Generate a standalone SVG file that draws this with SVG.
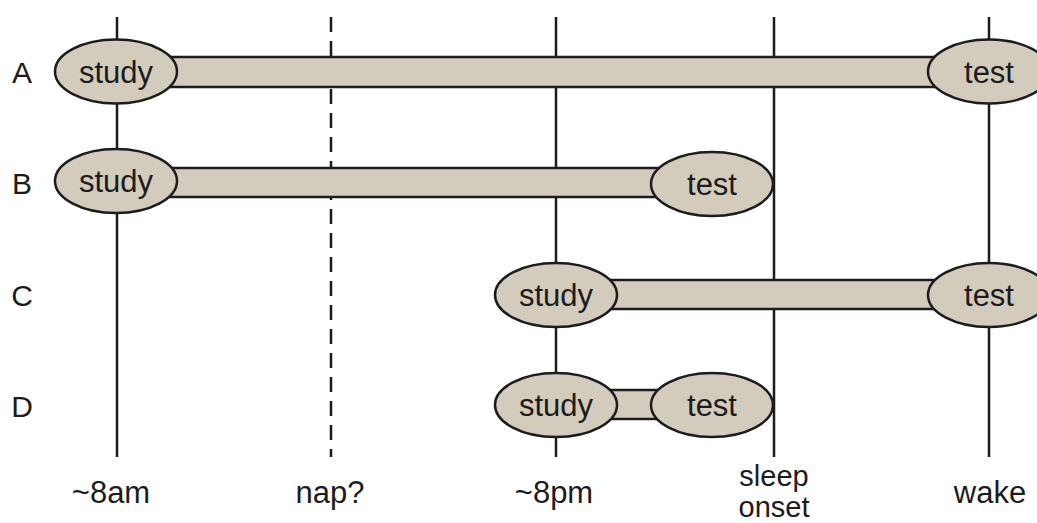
<svg xmlns="http://www.w3.org/2000/svg" width="1037" height="523" viewBox="0 0 1037 523">
  <style>
    .time { stroke: #1c1c1c; stroke-width: 2.5; fill: none; }
    .dash { stroke-dasharray: 15 9; }
    .bar { fill: #d3cbbc; stroke: #1c1c1c; stroke-width: 2.5; }
    .node { fill: #d3cbbc; stroke: #1c1c1c; stroke-width: 2.5; }
    .lbl { font-family: "Liberation Sans", Arial, sans-serif; font-size: 31px; fill: #1c1c1c; text-anchor: middle; }
    .two { font-size: 29px; }
    .row { font-family: "Liberation Sans", Arial, sans-serif; font-size: 30px; fill: #1c1c1c; text-anchor: middle; }
  </style>
  <rect width="1037" height="523" fill="#ffffff"/>

  <!-- time axis lines -->
  <g id="timeline">
    <line class="time" x1="117" y1="17" x2="117" y2="457"/>
    <line class="time dash" x1="331" y1="17" x2="331" y2="457"/>
    <line class="time" x1="556" y1="17" x2="556" y2="457"/>
    <line class="time" x1="774" y1="17" x2="774" y2="457"/>
    <line class="time" x1="989" y1="17" x2="989" y2="457"/>
  </g>

  <!-- retention intervals between study and test -->
  <g id="connectors">
    <rect class="bar" x="117" y="57" width="872" height="30"/>
    <rect class="bar" x="117" y="168" width="595" height="29"/>
    <rect class="bar" x="556" y="280" width="433" height="29"/>
    <rect class="bar" x="556" y="390" width="156" height="29"/>
  </g>

  <!-- row A -->
  <g id="A-study">
    <ellipse class="node" cx="116" cy="71.5" rx="61" ry="32"/>
    <text class="lbl" x="116" y="83">study</text>
  </g>
  <g id="A-test">
    <ellipse class="node" cx="989" cy="71.5" rx="61" ry="32"/>
    <text class="lbl" x="989" y="83">test</text>
  </g>

  <!-- row B -->
  <g id="B-study">
    <ellipse class="node" cx="116" cy="181" rx="61" ry="32"/>
    <text class="lbl" x="116" y="192">study</text>
  </g>
  <g id="B-test">
    <ellipse class="node" cx="712" cy="184" rx="61" ry="32"/>
    <text class="lbl" x="712" y="195">test</text>
  </g>

  <!-- row C -->
  <g id="C-study">
    <ellipse class="node" cx="556" cy="295" rx="61" ry="32"/>
    <text class="lbl" x="556" y="306">study</text>
  </g>
  <g id="C-test">
    <ellipse class="node" cx="989" cy="295" rx="61" ry="32"/>
    <text class="lbl" x="989" y="306">test</text>
  </g>

  <!-- row D -->
  <g id="D-study">
    <ellipse class="node" cx="556" cy="405" rx="61" ry="32"/>
    <text class="lbl" x="556" y="416">study</text>
  </g>
  <g id="D-test">
    <ellipse class="node" cx="712" cy="405" rx="61" ry="32"/>
    <text class="lbl" x="712" y="416">test</text>
  </g>

  <!-- row labels -->
  <g id="row-labels">
    <text class="row" x="22" y="83">A</text>
    <text class="row" x="22" y="194">B</text>
    <text class="row" x="22" y="306">C</text>
    <text class="row" x="22" y="417">D</text>
  </g>

  <!-- time labels -->
  <g id="time-labels">
    <text class="lbl" x="111" y="503">~8am</text>
    <text class="lbl" x="330" y="503">nap?</text>
    <text class="lbl" x="554" y="503">~8pm</text>
    <text class="lbl two" x="774" y="486">sleep</text>
    <text class="lbl two" x="774" y="517">onset</text>
    <text class="lbl" x="990" y="503">wake</text>
  </g>
</svg>
